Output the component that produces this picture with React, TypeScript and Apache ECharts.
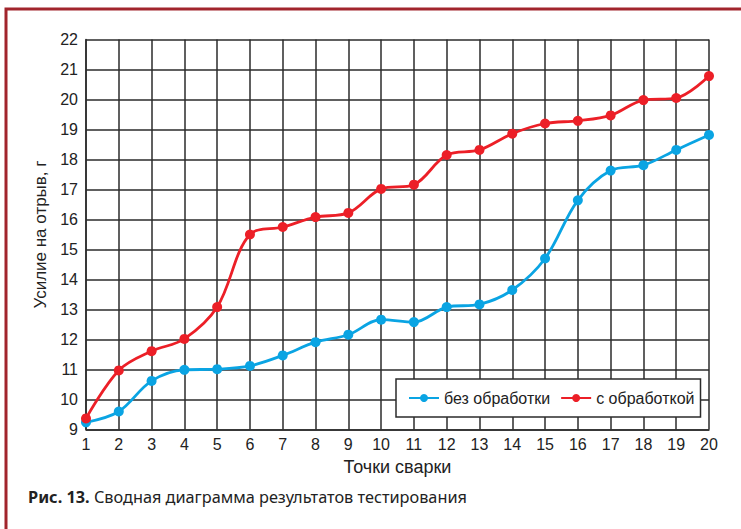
import React, { useEffect, useRef } from "react";
import * as echarts from "echarts";

const points = [1, 2, 3, 4, 5, 6, 7, 8, 9, 10, 11, 12, 13, 14, 15, 16, 17, 18, 19, 20];
const withoutTreatment = [9.24, 9.6, 10.62, 10.99, 11.01, 11.12, 11.47, 11.91, 12.16, 12.66, 12.58, 13.08, 13.17, 13.65, 14.7, 16.64, 17.63, 17.81, 18.32, 18.82];
const withTreatment = [9.37, 10.97, 11.61, 12.02, 13.08, 15.5, 15.75, 16.08, 16.22, 17.02, 17.16, 18.15, 18.32, 18.86, 19.2, 19.29, 19.47, 19.98, 20.05, 20.78];
const seriesNames = ["без обработки", "с обработкой"];
const xAxisTitle = "Точки сварки";
const yAxisTitle = "Усилие на отрыв, г";
const captionBold = "Рис. 13.";
const captionText = " Сводная диаграмма результатов тестирования";

const BLUE = "#0aa4e3";
const RED = "#ec1f27";
const GRID = "#2b2b2b";
const FONT = "Liberation Sans";

export default function App() {
  const ref = useRef<HTMLDivElement>(null);
  useEffect(() => {
    if (!ref.current) return;
    const chart = echarts.init(ref.current, null, { renderer: "svg" });
    const mk = (vals: number[]) => points.map((p, i) => [p, vals[i]]);
    chart.setOption({
      animation: false,
      backgroundColor: "#ffffff",
      grid: { left: 86, right: 32, top: 39.5, bottom: 99.5, containLabel: false },
      legend: {
        left: 396,
        top: 379,
        orient: "horizontal",
        backgroundColor: "#ffffff",
        borderColor: "#2b2b2b",
        borderWidth: 1.5,
        padding: [11, 6, 11, 12],
        itemWidth: 30,
        itemHeight: 10,
        itemGap: 10,
        textStyle: { fontFamily: FONT, fontSize: 16, color: "#222" },
        data: seriesNames,
      },
      xAxis: {
        type: "value",
        min: 1,
        max: 20,
        interval: 1,
        name: xAxisTitle,
        nameLocation: "middle",
        nameGap: 28,
        nameTextStyle: { fontFamily: FONT, fontSize: 18, color: "#222" },
        axisLine: { show: true, lineStyle: { color: GRID, width: 1.5 } },
        axisTick: { show: false },
        axisLabel: { fontFamily: FONT, fontSize: 16, color: "#222", margin: 7 },
        splitLine: { show: true, lineStyle: { color: GRID, width: 1.5 } },
      },
      yAxis: {
        type: "value",
        min: 9,
        max: 22,
        interval: 1,
        name: yAxisTitle,
        nameLocation: "middle",
        nameGap: 35,
        nameTextStyle: { fontFamily: FONT, fontSize: 17, color: "#222" },
        axisLine: { show: true, lineStyle: { color: GRID, width: 1.5 } },
        axisTick: { show: false },
        axisLabel: { fontFamily: FONT, fontSize: 16, color: "#222", margin: 8 },
        splitLine: { show: true, lineStyle: { color: GRID, width: 1.5 } },
      },
      series: [
        {
          name: seriesNames[0],
          type: "line",
          data: mk(withoutTreatment),
          smooth: 0.35,
          symbol: "circle",
          symbolSize: 10,
          itemStyle: { color: BLUE },
          lineStyle: { color: BLUE, width: 2.8 },
          z: 3,
        },
        {
          name: seriesNames[1],
          type: "line",
          data: mk(withTreatment),
          smooth: 0.35,
          symbol: "circle",
          symbolSize: 10,
          itemStyle: { color: RED },
          lineStyle: { color: RED, width: 2.8 },
          z: 4,
        },
      ],
      graphic: [
        {
          type: "rect",
          shape: { x: 6, y: 9, width: 800, height: 600 },
          style: { fill: "none", stroke: "#a1252c", lineWidth: 3 },
          silent: true,
        },
        {
          type: "text",
          left: 28,
          top: 489,
          style: {
            text: "{b|" + captionBold + "}{r|" + captionText + "}",
            rich: {
              b: { fontFamily: "Noto Sans", fontWeight: "bold", fontSize: 16.3, fill: "#222" },
              r: { fontFamily: "Noto Sans", fontSize: 16.3, fill: "#222" },
            },
          },
        },
      ],
    });
    return () => chart.dispose();
  }, []);
  return (
    <div
      ref={ref}
      style={{ position: "fixed", left: 0, top: 0, width: 741, height: 529 }}
    />
  );
}
